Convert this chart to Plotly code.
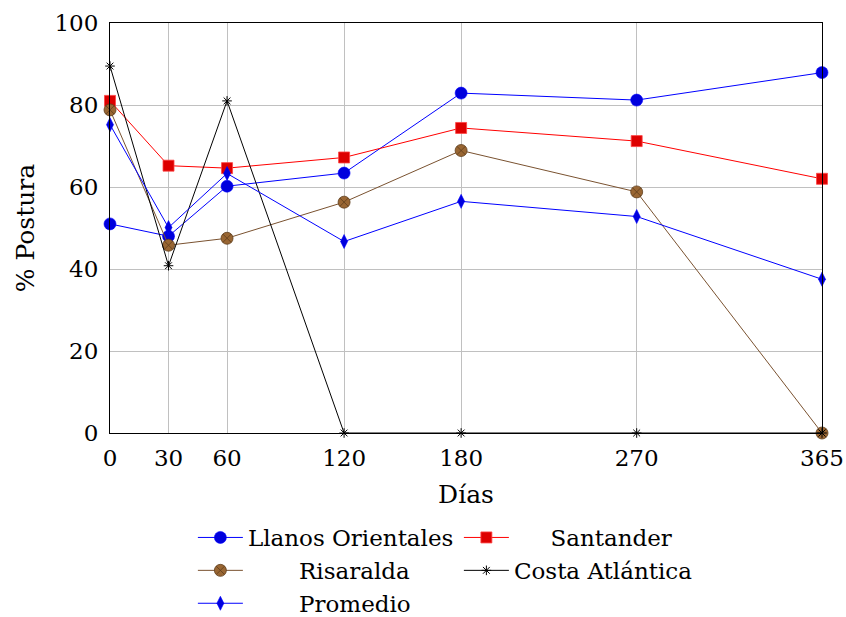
import plotly.graph_objects as go

# Days after the start of the trial
dias = [0, 30, 60, 120, 180, 270, 365]

# Egg-laying percentage by region
llanos = [51.0, 48.0, 60.2, 63.4, 82.9, 81.2, 87.9]
santander = [81.0, 65.2, 64.6, 67.2, 74.4, 71.2, 62.0]
risaralda = [78.8, 45.8, 47.5, 56.3, 68.9, 58.8, 0.0]
costa = [89.5, 40.8, 81.0, 0.0, 0.0, 0.0, 0.0]
promedio = [75.2, 50.1, 63.3, 46.7, 56.5, 52.8, 37.5]

x_ticks = [0, 30, 60, 120, 180, 270, 365]
y_ticks = [0, 20, 40, 60, 80, 100]

FONT = "DejaVu Serif"
NB = "\u00a0"

series = [
    dict(name="Llanos Orientales", y=llanos, line="#0000ff",
         marker=dict(symbol="circle", size=12, color="#0000dd",
                     line=dict(color="#0000ff", width=0.6))),
    dict(name="Santander", y=santander, line="#ff0000",
         marker=dict(symbol="square", size=11, color="#dd0000",
                     line=dict(color="#ff4444", width=0.8)),
         pad=5),
    dict(name="Risaralda", y=risaralda, line="#7a5230",
         marker=dict(symbol="circle-x", size=12, color="#996633",
                     line=dict(color="#5e3d1c", width=0.8)),
         pad=7),
    dict(name="Costa Atlántica", y=costa, line="#000000",
         marker=dict(symbol="asterisk", size=8, color="#000000",
                     line=dict(color="#000000", width=1))),
    dict(name="Promedio", y=promedio, line="#0000ff",
         marker=dict(symbol="diamond-tall", size=10, color="#0000dd",
                     line=dict(color="#0000ff", width=0.6)),
         pad=7),
]

fig = go.Figure()
for s in series:
    fig.add_trace(go.Scatter(
        x=dias, y=s["y"], mode="lines+markers",
        name=NB * s.get("pad", 0) + s["name"],
        line=dict(color=s["line"], width=1),
        marker=s["marker"],
        cliponaxis=False,
    ))

fig.update_layout(
    width=846, height=617,
    margin=dict(l=110, r=24, t=23, b=184, autoexpand=False),
    plot_bgcolor="white", paper_bgcolor="white",
    font=dict(family=FONT, size=23, color="black"),
    showlegend=True,
    legend=dict(
        orientation="h",
        xref="paper", x=0.49, xanchor="center",
        yref="container", y=1 - 516 / 617, yanchor="top",
        entrywidth=206, itemwidth=45,
        font=dict(family=FONT, size=23),
        bgcolor="rgba(0,0,0,0)",
        tracegroupgap=0,
    ),
    xaxis=dict(
        range=[0, 365], tickvals=x_ticks, ticktext=[str(v) for v in x_ticks],
        showgrid=True, gridcolor="#c0c0c0", gridwidth=1,
        showline=True, linecolor="black", linewidth=1, mirror=True,
        zeroline=False, ticks="", ticklabelstandoff=4,
        title=dict(text="Días", standoff=15, font=dict(size=25)),
    ),
    yaxis=dict(
        range=[0, 100], tickvals=y_ticks, ticktext=[str(v) for v in y_ticks],
        showgrid=True, gridcolor="#c0c0c0", gridwidth=1,
        showline=True, linecolor="black", linewidth=1, mirror=True,
        zeroline=False, ticks="", ticklabelstandoff=6,
        title=dict(text="% Postura", standoff=12, font=dict(size=25)),
    ),
)

fig.write_html("out.html")
